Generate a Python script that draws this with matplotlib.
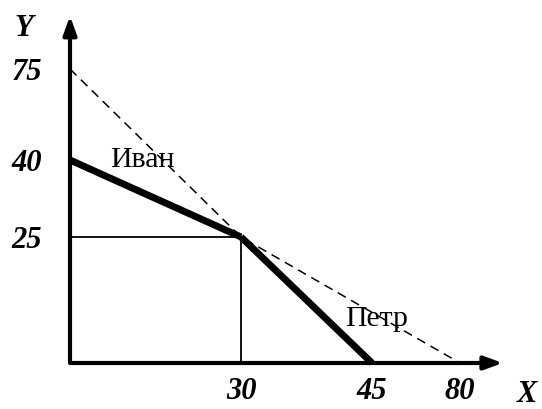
import numpy as np
import matplotlib
matplotlib.use("Agg")
import matplotlib.pyplot as plt

# schematic values
x_ticks = [30, 45, 80]
y_ticks = [25, 40, 75]
ivan_x = [0, 30]
ivan_y = [40, 25]
petr_x = [30, 45]
petr_y = [25, 0]
total_x = [0, 30, 80]
total_y = [75, 25, 0]
point_x = 30
point_y = 25

# the drawing is not to scale: piecewise scale, value -> pixels from origin
x_knots = [0, 30, 45, 80, 100]
x_pix = [0, 171, 302, 390, 472]
y_knots = [0, 25, 40, 75, 100]
y_pix = [0, 126, 203, 294, 363]


def fwd_x(v):
    return np.interp(v, x_knots, x_pix)


def inv_x(p):
    return np.interp(p, x_pix, x_knots)


def fwd_y(v):
    return np.interp(v, y_knots, y_pix)


def inv_y(p):
    return np.interp(p, y_pix, y_knots)


W, H = 542, 409
fig = plt.figure(figsize=(W / 100, H / 100), dpi=100)
ax = fig.add_axes([70 / W, 46 / H, 472 / W, 363 / H])
ax.set_xscale("function", functions=(fwd_x, inv_x))
ax.set_yscale("function", functions=(fwd_y, inv_y))
ax.set_xlim(0, 100)
ax.set_ylim(0, 100)
for s in ax.spines.values():
    s.set_visible(False)

serif = "Liberation Serif"

# axes with arrows
arr = dict(arrowstyle="-|>,head_length=1.1,head_width=0.4", lw=3, color="black",
           mutation_scale=10, shrinkA=0, shrinkB=0)
ax.annotate("", xy=(0, 0.956), xytext=(0, 0.005), xycoords="axes fraction",
            arrowprops=arr, annotation_clip=False)
ax.annotate("", xy=(0.917, 0), xytext=(0, 0), xycoords="axes fraction",
            arrowprops=arr, annotation_clip=False)

# guide lines to the kink point
ax.plot([0, point_x, point_x], [point_y, point_y, 0], color="black", lw=1.3,
        clip_on=False)

# dashed combined line
ax.plot(total_x, total_y, color="black", lw=1.1, dashes=(6, 4), clip_on=False)

# thick individual lines
ax.plot(ivan_x, ivan_y, color="black", lw=5, solid_capstyle="butt", clip_on=False)
ax.plot(petr_x, petr_y, color="black", lw=5, solid_capstyle="butt", clip_on=False)

ax.set_xticks(x_ticks)
ax.set_xticklabels([str(v) for v in x_ticks])
ax.set_yticks(y_ticks)
ax.set_yticklabels([str(v) for v in y_ticks])
ax.minorticks_off()
ax.tick_params(length=0)
ax.tick_params(axis="y", pad=20)
ax.tick_params(axis="x", pad=10)
for lab in ax.get_xticklabels() + ax.get_yticklabels():
    lab.set_fontfamily(serif)
    lab.set_fontsize(22)
    lab.set_fontweight("bold")
    lab.set_fontstyle("italic")


def px(x, y):
    return x / W, 1 - y / H


fig.text(*px(24, 29), "Y", family=serif, size=22, weight="bold", style="italic",
         ha="center", va="center")
fig.text(*px(527, 395), "X", family=serif, size=22, weight="bold", style="italic",
         ha="center", va="center")
fig.text(*px(110, 167), "Иван", family=serif, size=21.5, ha="left", va="baseline")
fig.text(*px(345, 326), "Петр", family=serif, size=21.5, ha="left", va="baseline")

fig.savefig("out.png", dpi=100)
